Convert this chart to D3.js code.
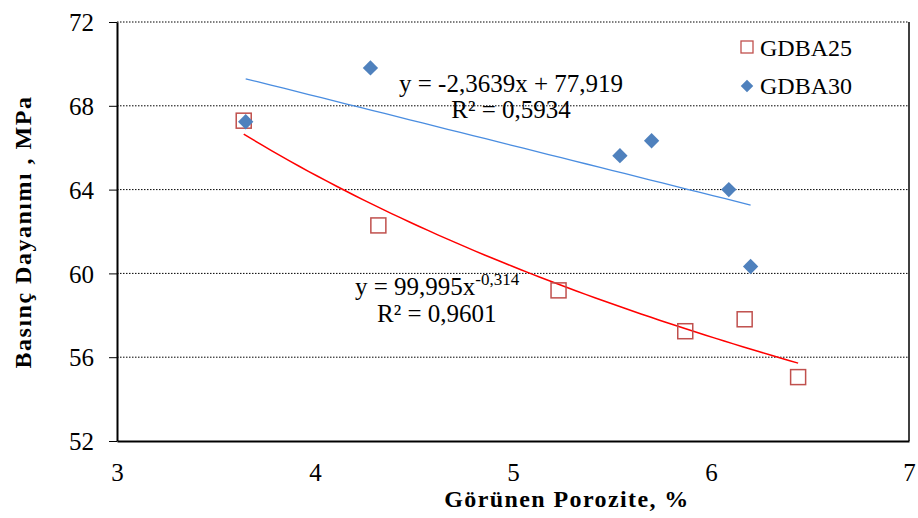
<!DOCTYPE html>
<html>
<head>
<meta charset="utf-8">
<script src="https://cdn.jsdelivr.net/npm/d3@7"></script>
<style>
  body { margin: 0; background: #fff; }
</style>
</head>
<body>
<div id="chart"></div>
<script>
// data
const gdba25X = [3.64, 4.32, 5.23, 5.87, 6.17, 6.44];
const gdba25Y = [67.29, 62.29, 59.19, 57.24, 57.81, 55.05];
const gdba30X = [3.65, 4.28, 5.54, 5.70, 6.09, 6.20];
const gdba30Y = [67.24, 69.81, 65.62, 66.33, 64.0, 60.33];

// trendline coefficients from the labels
const linCoef = [-2.3639, 77.919];   // y = a x + b
const powCoef = [99.995, -0.314];    // y = a x^b

const xTicks = [3, 4, 5, 6, 7];
const yTicks = [52, 56, 60, 64, 68, 72];

const serif = '"Liberation Serif", "Times New Roman", serif';
const width = 918, height = 518;
const margin = {top: 22, right: 9, bottom: 77, left: 117};
const innerWidth = width - margin.left - margin.right,
      innerHeight = height - margin.top - margin.bottom;

const svg = d3.select('#chart').append('svg')
  .attr('width', width)
  .attr('height', height)
  .attr('font-family', serif);

const xScale = d3.scaleLinear().domain([3, 7]).range([0, innerWidth]);
const yScale = d3.scaleLinear().domain([52, 72]).range([innerHeight, 0]);

const g = svg.append('g')
  .attr('transform', `translate(${margin.left},${margin.top})`);

// dotted gridlines
g.selectAll('.grid')
  .data(yTicks.filter(d => d > 52))
  .enter().append('line')
  .attr('class', 'grid')
  .attr('x1', 0).attr('x2', innerWidth)
  .attr('y1', d => yScale(d)).attr('y2', d => yScale(d))
  .style('stroke', '#000')
  .style('stroke-width', 1)
  .style('stroke-dasharray', '1.5,1.5');

// right border
g.append('line')
  .attr('x1', innerWidth).attr('x2', innerWidth)
  .attr('y1', 0).attr('y2', innerHeight)
  .style('stroke', '#000').style('stroke-width', 1.5);

// y axis
const yAxis = d3.axisLeft(yScale).tickValues(yTicks).tickFormat(d3.format('d'))
  .tickSizeInner(8).tickSizeOuter(0).tickPadding(15);
const yG = g.append('g').call(yAxis)
  .attr('font-family', serif).attr('font-size', 25);
yG.select('.domain').style('stroke', '#000').style('stroke-width', 2);
yG.selectAll('.tick line').style('stroke', '#000').style('stroke-width', 1);
yG.selectAll('text').attr('dy', '0.35em').style('fill', '#000');

// x axis
const xAxis = d3.axisBottom(xScale).tickValues(xTicks).tickFormat(d3.format('d'))
  .tickSizeInner(0).tickSizeOuter(0).tickPadding(22);
const xG = g.append('g').attr('transform', `translate(0,${innerHeight})`).call(xAxis)
  .attr('font-family', serif).attr('font-size', 25);
xG.select('.domain').style('stroke', '#000').style('stroke-width', 2);
xG.selectAll('text').style('fill', '#000');

// trendlines
const linLine = d3.line().x(d => xScale(d)).y(d => yScale(linCoef[0] * d + linCoef[1]));
const x30 = d3.extent(gdba30X);
g.append('path')
  .datum(d3.range(0, 41).map(i => x30[0] + (x30[1] - x30[0]) * i / 40))
  .attr('d', linLine)
  .style('fill', 'none')
  .style('stroke', '#4a8de0')
  .style('stroke-width', 1.3);

const powLine = d3.line().x(d => xScale(d)).y(d => yScale(powCoef[0] * Math.pow(d, powCoef[1])));
const x25 = d3.extent(gdba25X);
g.append('path')
  .datum(d3.range(0, 61).map(i => x25[0] + (x25[1] - x25[0]) * i / 60))
  .attr('d', powLine)
  .style('fill', 'none')
  .style('stroke', '#ff0000')
  .style('stroke-width', 1.5);

// GDBA25 squares
const sq = 15;
g.selectAll('.sq')
  .data(gdba25X.map((x, i) => [x, gdba25Y[i]]))
  .enter().append('rect')
  .attr('class', 'sq')
  .attr('x', d => xScale(d[0]) - sq / 2)
  .attr('y', d => yScale(d[1]) - sq / 2)
  .attr('width', sq).attr('height', sq)
  .style('fill', 'none')
  .style('stroke', '#c0504d')
  .style('stroke-width', 1.5);

// GDBA30 diamonds
const diamond = d3.symbol().type(d3.symbolDiamond2).size(150);
g.selectAll('.dm')
  .data(gdba30X.map((x, i) => [x, gdba30Y[i]]))
  .enter().append('path')
  .attr('class', 'dm')
  .attr('d', diamond)
  .attr('transform', d => `translate(${xScale(d[0])},${yScale(d[1])})`)
  .style('fill', '#4f81bd');

// equation labels
const labels = svg.append('g').attr('font-size', 25);
labels.append('text').attr('x', 511).attr('y', 92).attr('text-anchor', 'middle')
  .text('y = -2,3639x + 77,919');
labels.append('text').attr('x', 511).attr('y', 118).attr('text-anchor', 'middle')
  .text('R² = 0,5934');

const pe = labels.append('text').attr('x', 355).attr('y', 295);
pe.append('tspan').text('y = 99,995x');
pe.append('tspan').attr('dy', -10).attr('font-size', 17).text('-0,314');
labels.append('text').attr('x', 377).attr('y', 322).text('R² = 0,9601');

// legend
const legend = svg.append('g').attr('font-size', 24);
legend.append('rect')
  .attr('x', 741).attr('y', 41).attr('width', 12).attr('height', 12)
  .style('fill', 'none').style('stroke', '#c0504d').style('stroke-width', 1.3);
legend.append('text').attr('x', 760).attr('y', 56).text('GDBA25');
legend.append('path')
  .attr('d', d3.symbol().type(d3.symbolDiamond2).size(100))
  .attr('transform', 'translate(747,86)')
  .style('fill', '#4f81bd');
legend.append('text').attr('x', 760).attr('y', 94).text('GDBA30');

// axis titles
svg.append('text')
  .attr('transform', `translate(31,${232}) rotate(-90)`)
  .attr('text-anchor', 'middle')
  .attr('font-size', 24).attr('font-weight', 'bold')
  .style('letter-spacing', '1.5px')
  .text('Basınç Dayanımı , MPa');

svg.append('text')
  .attr('x', 567).attr('y', 507)
  .attr('text-anchor', 'middle')
  .attr('font-size', 24).attr('font-weight', 'bold')
  .style('letter-spacing', '1.4px')
  .text('Görünen Porozite, %');
</script>
</body>
</html>
